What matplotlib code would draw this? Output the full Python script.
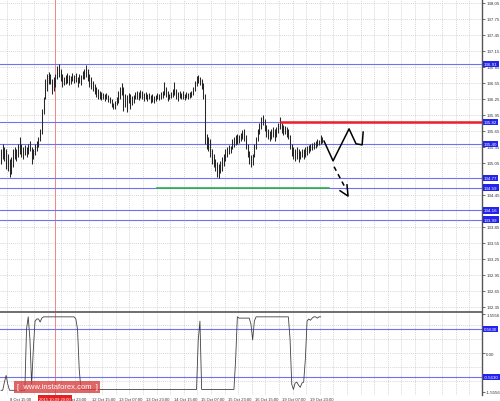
import matplotlib
matplotlib.use("Agg")
import matplotlib.pyplot as plt
from matplotlib.transforms import blended_transform_factory

plt.rcParams['font.family'] = ['Liberation Sans', 'DejaVu Sans']

# hourly bars, high / low
bar_hi = [135.31, 135.41, 135.35, 135.31, 135.22, 135.13, 135.16, 135.31, 135.35, 135.31,
          135.41, 135.54, 135.41, 135.35, 135.39, 135.35, 135.41, 135.46, 135.35, 135.31,
          135.41, 135.46, 135.54, 135.69, 136.06, 136.29, 136.63, 136.72, 136.76, 136.72,
          136.63, 136.66, 136.72, 136.87, 136.91, 136.81, 136.72, 136.66, 136.70, 136.74,
          136.70, 136.68, 136.74, 136.70, 136.74, 136.66, 136.72, 136.70, 136.78, 136.81,
          136.89, 136.81, 136.72, 136.66, 136.59, 136.53, 136.48, 136.44, 136.40, 136.38,
          136.36, 136.34, 136.36, 136.33, 136.29, 136.25, 136.18, 136.21, 136.29, 136.40,
          136.48, 136.55, 136.48, 136.34, 136.33, 136.36, 136.34, 136.31, 136.33, 136.38,
          136.40, 136.38, 136.42, 136.40, 136.36, 136.38, 136.34, 136.36, 136.33, 136.34,
          136.31, 136.33, 136.36, 136.34, 136.38, 136.40, 136.57, 136.48, 136.40, 136.34,
          136.38, 136.44, 136.57, 136.44, 136.38, 136.40, 136.36, 136.40, 136.34, 136.38,
          136.36, 136.38, 136.40, 136.48, 136.59, 136.68, 136.70, 136.66, 136.63, 136.55,
          136.34, 135.59, 135.54, 135.50, 135.31, 135.22, 135.13, 135.07, 135.03, 135.09,
          135.16, 135.22, 135.31, 135.35, 135.39, 135.37, 135.50, 135.54, 135.58, 135.59,
          135.58, 135.61, 135.67, 135.69, 135.58, 135.41, 135.28, 135.20, 135.22, 135.41,
          135.54, 135.69, 135.80, 135.91, 135.95, 135.88, 135.76, 135.69, 135.65, 135.69,
          135.73, 135.69, 135.73, 135.80, 135.91, 135.80, 135.76, 135.74, 135.73, 135.69,
          135.58, 135.41, 135.35, 135.31, 135.35, 135.31, 135.28, 135.31, 135.31, 135.35,
          135.37, 135.39, 135.41, 135.43, 135.44, 135.46, 135.50, 135.48, 135.58, 135.54]
bar_lo = [135.03, 135.13, 135.09, 134.94, 134.90, 134.79, 134.84, 134.98, 135.13, 135.09,
          135.16, 135.22, 135.16, 135.13, 135.20, 135.16, 135.22, 135.28, 135.03, 135.13,
          135.20, 135.28, 135.35, 135.46, 135.59, 135.97, 136.25, 136.40, 136.53, 136.53,
          136.34, 136.40, 136.48, 136.63, 136.66, 136.59, 136.48, 136.51, 136.53, 136.55,
          136.51, 136.53, 136.59, 136.55, 136.57, 136.48, 136.55, 136.51, 136.63, 136.63,
          136.66, 136.59, 136.48, 136.44, 136.40, 136.34, 136.29, 136.25, 136.25, 136.23,
          136.25, 136.21, 136.25, 136.19, 136.18, 136.10, 136.06, 136.06, 136.14, 136.18,
          136.25, 136.33, 136.03, 136.10, 136.01, 136.18, 136.06, 136.14, 136.18, 136.25,
          136.25, 136.23, 136.27, 136.25, 136.21, 136.25, 136.21, 136.25, 136.18, 136.19,
          136.18, 136.21, 136.25, 136.23, 136.25, 136.27, 136.33, 136.29, 136.21, 136.25,
          136.27, 136.29, 136.33, 136.25, 136.21, 136.27, 136.25, 136.25, 136.23, 136.27,
          136.25, 136.27, 136.29, 136.33, 136.40, 136.49, 136.55, 136.51, 136.44, 136.25,
          135.41, 135.31, 135.28, 135.16, 135.03, 134.98, 134.90, 134.79, 134.77, 134.86,
          134.90, 134.99, 135.09, 135.16, 135.22, 135.24, 135.31, 135.35, 135.39, 135.41,
          135.43, 135.46, 135.50, 135.46, 135.31, 135.16, 135.03, 134.98, 135.01, 135.16,
          135.31, 135.46, 135.59, 135.69, 135.76, 135.65, 135.54, 135.50, 135.46, 135.50,
          135.54, 135.46, 135.54, 135.61, 135.69, 135.61, 135.58, 135.59, 135.54, 135.50,
          135.31, 135.18, 135.13, 135.09, 135.13, 135.07, 135.13, 135.16, 135.13, 135.16,
          135.20, 135.24, 135.28, 135.29, 135.31, 135.33, 135.37, 135.39, 135.41, 135.43]

# oscillator in the lower window
osc = [-0.87, -0.87, -0.68, -0.52, -0.73, -0.87, -0.87, -0.87, -0.87, -0.87,
       -0.87, -0.87, -0.87, -0.87, -0.87, 0.56, 0.85, 0.33, -0.73, 0.09,
       0.75, 0.80, 0.80, 0.73, 0.82, 0.85, 0.85, 0.85, 0.85, 0.85,
       0.85, 0.85, 0.85, 0.85, 0.85, 0.85, 0.85, 0.85, 0.85, 0.85,
       0.85, 0.85, 0.85, 0.85, 0.80, 0.56, -0.38, -0.85, -0.85, -0.85,
       -0.85, -0.85, -0.85, -0.85, -0.85, -0.85, -0.85, -0.85, -0.85, -0.85,
       -0.85, -0.85, -0.85, -0.85, -0.85, -0.85, -0.85, -0.85, -0.85, -0.85,
       -0.85, -0.85, -0.85, -0.85, -0.85, -0.85, -0.85, -0.85, -0.85, -0.85,
       -0.85, -0.85, -0.85, -0.85, -0.85, -0.85, -0.85, -0.85, -0.85, -0.85,
       -0.85, -0.85, -0.85, -0.85, -0.85, -0.85, -0.85, -0.85, -0.85, -0.85,
       -0.85, -0.85, -0.85, -0.85, -0.85, -0.85, -0.85, -0.85, -0.85, -0.85,
       -0.85, -0.85, -0.85, -0.85, -0.85, -0.85, 0.31, 0.75, -0.85, -0.85,
       -0.85, -0.85, -0.85, -0.85, -0.85, -0.85, -0.85, -0.85, -0.85, -0.85,
       -0.85, -0.85, -0.85, -0.85, -0.85, -0.85, -0.85, -0.85, -0.14, 0.85,
       0.82, 0.82, 0.82, 0.82, 0.82, 0.82, 0.82, 0.68, 0.31, 0.75,
       0.85, 0.85, 0.85, 0.85, 0.85, 0.85, 0.85, 0.85, 0.85, 0.85,
       0.85, 0.85, 0.85, 0.85, 0.85, 0.85, 0.85, 0.85, 0.85, 0.85,
       0.33, -0.73, -0.85, -0.70, -0.68, -0.75, -0.80, -0.70, -0.68, -0.14,
       0.75, 0.80, 0.77, 0.82, 0.85, 0.85, 0.82, 0.85, 0.85]

blue_levels = [136.91, 135.82, 135.40, 134.77, 134.59, 134.16, 133.99]
red_level = 135.82
red_start = 164.7
green_level = 134.59
green_span = [91.8, 193.0]

# forecast sketch
zig_x = [190.0, 195.3, 204.7, 208.8, 212.4, 213.0]
zig_y = [135.46, 135.09, 135.69, 135.41, 135.39, 135.63]
dash_x = [195.9, 202.9]
dash_y = [134.98, 134.56]
head_x = [199.4, 204.1, 203.5]
head_y = [134.53, 134.43, 134.64]

price_ticks = [138.05, 137.75, 137.45, 137.15, 136.85, 136.55, 136.25, 135.95,
               135.65, 135.35, 135.05, 134.45, 133.85, 133.55, 133.25, 132.95,
               132.65, 132.35]
time_bars = [5.5, 21.5, 37.5, 53.5, 69.5, 85.5, 101.5, 117.5, 133.5, 149.5, 165.5, 181.5]
time_labels = ['8 Oct 15:00', '9 Oct 07:00', '9 Oct 23:00', '12 Oct 15:00',
               '13 Oct 07:00', '13 Oct 23:00', '14 Oct 15:00', '15 Oct 07:00',
               '15 Oct 23:00', '16 Oct 15:00', '19 Oct 07:00', '19 Oct 23:00']
cursor_bar = 31.8
cursor_label = '2015.10.09 20:00'
osc_levels = [0.563, -0.563]

blue = '#7070f4'
grid_c = '#c9c9c9'
W, H = 500, 402
fig = plt.figure(figsize=(W / 100, H / 100), dpi=100)
ax = fig.add_axes([0, (H - 313) / H, 482 / W, 313 / H])
ax2 = fig.add_axes([0, (H - 396) / H, 482 / W, 82 / H], sharex=ax)

x0, x1 = -0.6, 282.9
ax.set_xlim(x0, x1)
ax.set_ylim(132.256, 138.125)
ax2.set_ylim(-0.98, 0.94)

grid_x = [3.5 + 8 * k for k in range(36)]
for a in (ax, ax2):
    for s in ['left', 'top']:
        a.spines[s].set_visible(False)
    a.spines['right'].set_color('#555555')
    a.spines['right'].set_linewidth(1.0)
    for gx in grid_x:
        a.axvline(gx, color=grid_c, lw=0.5, ls=(0, (1.5, 1.5)), zorder=0)
    a.yaxis.tick_right()
    a.tick_params(axis='y', length=2, width=0.5, labelsize=3.2, pad=1, colors='#333333')

ax.spines['bottom'].set_color('#555555')
ax.spines['bottom'].set_linewidth(1.2)
ax.set_yticks(price_ticks)
ax.set_yticklabels(['%.2f' % p for p in price_ticks])
for p in price_ticks:
    ax.axhline(p, color=grid_c, lw=0.5, ls=(0, (1.5, 1.5)), zorder=0)
ax.tick_params(axis='x', bottom=False, labelbottom=False)

# price bars
xs = list(range(len(bar_hi)))
ax.vlines(xs, bar_lo, bar_hi, color='#262626', lw=0.75, zorder=3)

for lv in blue_levels:
    ax.axhline(lv, color=blue, lw=0.8, zorder=2)
ax.plot([red_start, x1], [red_level, red_level], color='#e8202c', lw=1.8, zorder=4)
ax.plot(green_span, [green_level, green_level], color='#2fb24a', lw=1.2, zorder=4)

ax.plot(zig_x, zig_y, color='black', lw=1.1, zorder=5)
ax.plot(dash_x, dash_y, color='black', lw=1.1, ls=(0, (3, 2.5)), zorder=5)
ax.plot(head_x, head_y, color='black', lw=1.1, zorder=5)

tr = blended_transform_factory(ax.transAxes, ax.transData)
for lv in blue_levels:
    ax.text(1.004, lv, '%.2f' % lv, transform=tr, ha='left', va='center', fontsize=3.2,
            color='white', zorder=6, clip_on=False,
            bbox=dict(boxstyle='square,pad=0.25', fc='#2323ee', ec='none'))

# lower window
for gy in [-0.66, -0.33, 0.0, 0.33, 0.66]:
    ax2.axhline(gy, color=grid_c, lw=0.5, ls=(0, (1.5, 1.5)), zorder=0)
for lv in osc_levels:
    ax2.axhline(lv, color=blue, lw=0.8, zorder=2)
ax2.plot(range(len(osc)), osc, color='#404040', lw=0.6, zorder=3)
ax2.spines['bottom'].set_visible(False)
ax2.set_yticks([0.91, 0.0, -0.90])
ax2.set_yticklabels(['1.5556', '0.00', '-1.5556'])
tr2 = blended_transform_factory(ax2.transAxes, ax2.transData)
for lv, lab in zip(osc_levels, ['0.5630', '-0.5630']):
    ax2.text(1.004, lv, lab, transform=tr2, ha='left', va='center', fontsize=3.2,
             color='white', zorder=6, clip_on=False,
             bbox=dict(boxstyle='square,pad=0.25', fc='#2323ee', ec='none'))

ax2.set_xticks(time_bars)
ax2.set_xticklabels(time_labels)
ax2.tick_params(axis='x', length=0, labelsize=3.0, pad=1.5, colors='#333333')
for lab in ax2.get_xticklabels():
    lab.set_ha('left')

# crosshair
for a in (ax, ax2):
    a.axvline(cursor_bar, color='#f07070', lw=0.6, zorder=1)
trx = blended_transform_factory(ax2.transData, ax2.transAxes)
ax2.text(cursor_bar, -0.02, cursor_label, transform=trx, ha='center', va='top', fontsize=3.0,
         color='white', zorder=7, clip_on=False,
         bbox=dict(boxstyle='square,pad=0.3', fc='#e42020', ec='none'))

fig.text(57 / W, (H - 388) / H, '[  www.instaforex.com  ]', ha='center', va='center',
         fontsize=5.5, color='white', zorder=8,
         bbox=dict(boxstyle='square,pad=0.35', fc='#d84040', ec='none', alpha=0.8))

fig.savefig('out.png', dpi=100)
